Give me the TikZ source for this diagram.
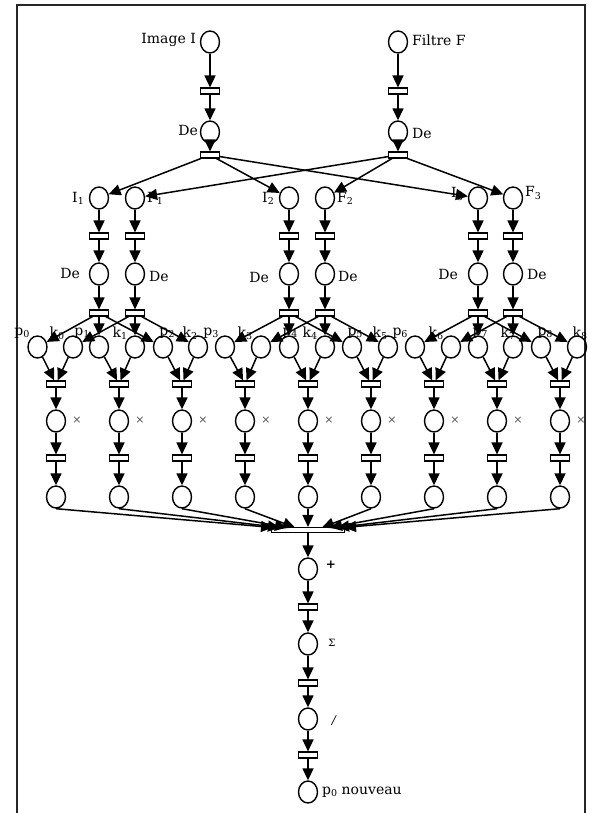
\documentclass[tikz,border=0pt]{standalone}
\usepackage{fontspec}
\setmainfont{DejaVu Serif}
\usetikzlibrary{arrows.meta,shapes.geometric}
\newcommand{\sbs}[1]{\raisebox{-0.3ex}{\fontsize{9.5}{11}\selectfont #1}}
\begin{document}
\begin{tikzpicture}[x=1pt,y=-1pt,
  place/.style={draw,ellipse,line width=1.4pt,minimum width=19pt,minimum height=22pt,inner sep=0pt},
  trans/.style={draw,rectangle,line width=1.1pt,fill=white,minimum width=19pt,minimum height=6pt,inner sep=0pt},
  bigtrans/.style={draw,rectangle,line width=1.1pt,fill=white,minimum width=73pt,minimum height=5pt,inner sep=0pt},
  arc/.style={-{Triangle[length=12pt,width=11pt]},line width=1.5pt},
  lbl/.style={inner sep=0pt,font=\fontsize{14}{16}\selectfont},
  sml/.style={inner sep=0pt,font=\fontsize{11}{13}\selectfont,text=black!70},
  frameline/.style={line width=1.2pt,draw=black!85}]
\useasboundingbox (0,0) rectangle (600,813);
\draw[frameline] (17,813) -- (17,5) -- (585,5) -- (585,813);

% ---------- labels (drawn first, arrows pass over them)
\node[lbl,anchor=east] at (196,40) {Image I};
\node[lbl,anchor=west] at (412,40) {Filtre F};
\node[lbl,anchor=east] at (198,130) {De};
\node[lbl,anchor=west] at (412,133) {De};
\node[lbl,anchor=east] at (84,198) {I\sbs{1}};
\node[lbl,anchor=west] at (147,198) {F\sbs{1}};
\node[lbl,anchor=east] at (274,198) {I\sbs{2}};
\node[lbl,anchor=west] at (337,198) {F\sbs{2}};
\node[lbl,anchor=east] at (463,194) {I\sbs{3}};
\node[lbl,anchor=west] at (525,193) {F\sbs{3}};
\node[lbl,anchor=east] at (80,273) {De};
\node[lbl,anchor=west] at (149,276) {De};
\node[lbl,anchor=east] at (269,277) {De};
\node[lbl,anchor=west] at (338,276) {De};
\node[lbl,anchor=east] at (458,274) {De};
\node[lbl,anchor=west] at (527,274) {De};
\foreach \t/\s/\x in {p/0/22,k/0/57,p/1/82,k/1/120,p/2/167,k/2/190,p/3/211,k/3/245,p/4/290,
                   k/4/310,p/5/355,k/5/380,p/6/400,k/6/436,p/7/480,k/7/508,p/8/545,k/8/580}
  \node[lbl] at (\x,333) {\t\sbs{\s}};

% ---------- top part
\node[place] (img) at (210,42) {};
\node[place] (fil) at (398,42) {};
\node[trans] (t1) at (210,91) {};
\node[trans] (t2) at (398,91) {};
\node[place] (de1) at (210,132) {};
\node[place] (de2) at (398,132) {};
\node[trans] (t3) at (210,155) {};
\node[trans] (t4) at (398,155) {};
\draw[arc] (img) -- (t1);
\draw[arc] (t1) -- (de1);
\draw[arc] (de1) -- (t3);
\draw[arc] (fil) -- (t2);
\draw[arc] (t2) -- (de2);
\draw[arc] (de2) -- (t4);

% ---------- second level
\foreach \j/\xi/\xf in {1/99/135,2/289/325,3/478/513} {
  \node[place] (I\j) at (\xi,198) {};
  \node[trans] (tI\j) at (\xi,236) {};
  \node[place] (dI\j) at (\xi,274) {};
  \node[trans] (uI\j) at (\xi,313) {};
  \node[place] (F\j) at (\xf,198) {};
  \node[trans] (tF\j) at (\xf,236) {};
  \node[place] (dF\j) at (\xf,274) {};
  \node[trans] (uF\j) at (\xf,313) {};
  \draw[arc] (t3) -- (I\j);
  \draw[arc] (t4) -- (F\j);
  \draw[arc] (I\j) -- (tI\j);
  \draw[arc] (tI\j) -- (dI\j);
  \draw[arc] (dI\j) -- (uI\j);
  \draw[arc] (F\j) -- (tF\j);
  \draw[arc] (tF\j) -- (dF\j);
  \draw[arc] (dF\j) -- (uF\j);
}

% ---------- products
\foreach \i/\xp/\xk/\c in {0/37.5/73/56,1/99/135/119,2/163/198/182,3/225/261/245,4/289/325/308,
                           5/352/388/371,6/415/451/434,7/478/513/497,8/541/577/560} {
  \node[place] (p\i) at (\xp,347) {};
  \node[place] (k\i) at (\xk,347) {};
  \node[trans] (pt\i) at (\c,384) {};
  \node[place] (x\i) at (\c,421) {};
  \node[sml] at (\c+21,420) {×};
  \node[trans] (xt\i) at (\c,458) {};
  \node[place] (r\i) at (\c,497) {};
  \draw[arc] (p\i) -- (pt\i);
  \draw[arc] (k\i) -- (pt\i);
  \draw[arc] (pt\i) -- (x\i);
  \draw[arc] (x\i) -- (xt\i);
  \draw[arc] (xt\i) -- (r\i);
}
\foreach \j/\a/\b/\cc in {1/0/1/2,2/3/4/5,3/6/7/8} {
  \draw[arc] (uI\j) -- (p\a);
  \draw[arc] (uI\j) -- (p\b);
  \draw[arc] (uI\j) -- (p\cc);
  \draw[arc] (uF\j) -- (k\a);
  \draw[arc] (uF\j) -- (k\b);
  \draw[arc] (uF\j) -- (k\cc);
}

% ---------- sum
\node[bigtrans] (big) at (308,530) {};
\foreach \i/\ex in {0/273,1/280,2/287,3/295,5/322,6/330,7/337,8/344}
  \coordinate (e\i) at (\ex,527.5);
\foreach \i in {0,1,2,3,5,6,7,8}
  \draw[arc] (r\i.south) -- (e\i);
\draw[arc] (r4) -- (big);

\node[place] (plus) at (308,569) {};
\node[trans] (tp) at (308,607) {};
\node[place] (sig) at (308,644) {};
\node[trans] (ts) at (308,683) {};
\node[place] (dv) at (308,719) {};
\node[trans] (td) at (308,755) {};
\node[place] (nw) at (308,792) {};
\node[inner sep=0pt,font=\fontsize{12}{14}\selectfont\bfseries] at (331,565) {+};
\node[inner sep=0pt,font=\fontsize{10}{12}\selectfont] at (332,643) {Σ};
\node[inner sep=0pt,font=\fontsize{12}{14}\selectfont\itshape] at (334,721) {/};
\node[lbl,anchor=west] at (322,792) {p\sbs{0} nouveau};
\draw[arc] (big) -- (plus);
\draw[arc] (plus) -- (tp);
\draw[arc] (tp) -- (sig);
\draw[arc] (sig) -- (ts);
\draw[arc] (ts) -- (dv);
\draw[arc] (dv) -- (td);
\draw[arc] (td) -- (nw);
\end{tikzpicture}
\end{document}
